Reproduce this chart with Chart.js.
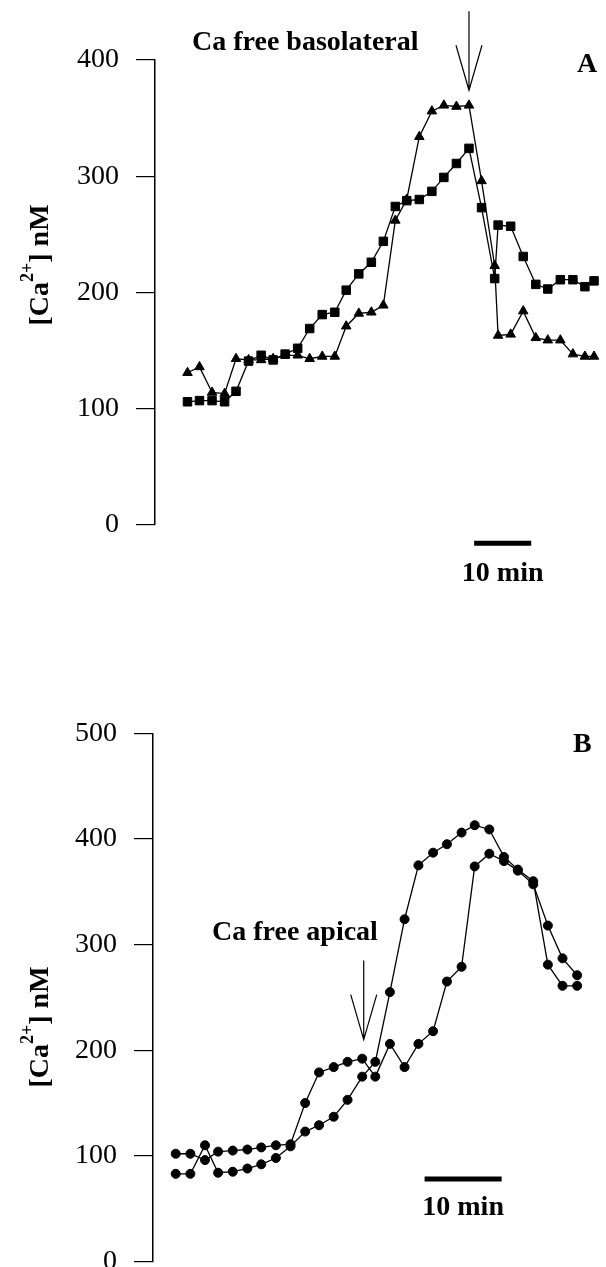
<!DOCTYPE html>
<html>
<head>
<meta charset="utf-8">
<script src="https://cdn.jsdelivr.net/npm/chart.js@4.4.0/dist/chart.umd.min.js"></script>
<style>
    body { margin: 0; background: #fff; overflow: hidden; }
    canvas { position: absolute; left: 0; }
    #chartA { top: 0; }
    #chartB { top: 600px; }
</style>
</head>
<body>
<canvas id="chartA" width="606" height="600"></canvas>
<canvas id="chartB" width="606" height="667"></canvas>
<script>
// Panel A - Ca free basolateral (time in min, [Ca2+] in nM)
const timeA = [0, 2.1, 4.3, 6.5, 8.5, 10.7, 12.9, 15.0, 17.1, 19.3, 21.4, 23.6, 25.8, 27.8, 30.0, 32.2, 34.3,
    36.4, 38.4, 40.6, 42.8, 44.9, 47.1, 49.3, 51.5, 53.8, 54.4, 56.6, 58.8, 61.0, 63.1, 65.3, 67.5, 69.6, 71.2];
const squaresA = [106, 107, 107, 106, 115, 141, 146, 142, 147, 152, 169, 181, 183, 202, 216, 226, 244,
    274, 279, 280, 287, 299, 311, 324, 273, 212, 258, 257, 231, 207, 203, 211, 211, 205, 210];
const trianglesA = [131, 136, 114, 113, 143, 142, 142, 143, 146, 146, 143, 145, 145, 171, 182, 183, 189,
    262, 280, 334, 356, 361, 360, 361, 296, 223, 163, 164, 184, 161, 159, 159, 147, 145, 145];
const ticksA = [0, 100, 200, 300, 400];
const scaleBarA = [50.2, 60.2];

// Panel B - Ca free apical
const timeB = [0, 1.9, 3.8, 5.5, 7.4, 9.3, 11.1, 13.0, 14.9, 16.8, 18.6, 20.5, 22.3, 24.2, 25.9,
    27.8, 29.7, 31.5, 33.4, 35.2, 37.1, 38.8, 40.7, 42.6, 44.4, 46.4, 48.3, 50.2, 52.1];
const circlesB1 = [102, 102, 96, 104, 105, 106, 108, 110, 111, 150, 179, 184, 189, 192, 175,
    206, 184, 206, 218, 265, 279, 374, 386, 379, 370, 357, 318, 287, 271];
const circlesB2 = [83, 83, 110, 84, 85, 88, 92, 98, 109, 123, 129, 137, 153, 175, 189,
    255, 324, 375, 387, 395, 406, 413, 409, 383, 371, 360, 281, 261, 261];
const ticksB = [0, 100, 200, 300, 400, 500];
const scaleBarB = [32.3, 42.3];

const SERIF = '"Liberation Serif", "Times New Roman", serif';

function toPoints(xs, ys) {
    return xs.map((x, i) => ({ x: x, y: ys[i] }));
}

function series(data, style, radius) {
    return {
        data: data,
        borderColor: "#000",
        backgroundColor: "#000",
        borderWidth: 1.3,
        pointStyle: style,
        pointRadius: radius,
        pointBorderWidth: 1,
        tension: 0,
        clip: false,
    };
}

function scaleBar(xs, y) {
    return {
        data: xs.map((x) => ({ x: x, y: y })),
        borderColor: "#000",
        borderWidth: 5,
        borderCapStyle: "butt",
        pointRadius: 0,
        clip: false,
    };
}

function yAxis(max, ticks, width) {
    return {
        type: "linear",
        min: 0,
        max: max,
        afterBuildTicks: (s) => { s.ticks = ticks.map((v) => ({ value: v })); },
        afterFit: (s) => { s.width = width; s.paddingTop = 0; s.paddingBottom = 0; },
        grid: { drawOnChartArea: false, drawTicks: true, tickLength: 19, color: "#000", lineWidth: 1.2 },
        border: { display: true, color: "#000", width: 1.5 },
        ticks: { color: "#000", padding: 17, font: { family: SERIF, size: 28 } },
    };
}

function drawYLabel(ctx, cx, cy) {
    const big = "bold 28px " + SERIF;
    const small = "bold 18px " + SERIF;
    ctx.save();
    ctx.translate(cx, cy);
    ctx.rotate(-Math.PI / 2);
    ctx.fillStyle = "#000";
    ctx.textAlign = "left";
    ctx.textBaseline = "alphabetic";
    ctx.font = big;
    const w1 = ctx.measureText("[Ca").width;
    const w3 = ctx.measureText("] nM").width;
    ctx.font = small;
    const w2 = ctx.measureText("2+").width;
    let x = -(w1 + w2 + w3) / 2;
    ctx.font = big;
    ctx.fillText("[Ca", x, 10);
    x += w1;
    ctx.font = small;
    ctx.fillText("2+", x, -5);
    x += w2;
    ctx.font = big;
    ctx.fillText("] nM", x, 10);
    ctx.restore();
}

function drawText(ctx, str, x, y, align) {
    ctx.save();
    ctx.font = "bold 28px " + SERIF;
    ctx.fillStyle = "#000";
    ctx.textAlign = align || "left";
    ctx.textBaseline = "alphabetic";
    ctx.fillText(str, x, y);
    ctx.restore();
}

// open arrow pointing down onto the trace
function drawArrow(chart, xVal, yTopVal, yTipVal) {
    const ctx = chart.ctx;
    const x = chart.scales.x.getPixelForValue(xVal);
    const y0 = chart.scales.y.getPixelForValue(yTopVal);
    const y1 = chart.scales.y.getPixelForValue(yTipVal);
    ctx.save();
    ctx.strokeStyle = "#000";
    ctx.lineWidth = 1.2;
    ctx.beginPath();
    ctx.moveTo(x, y0);
    ctx.lineTo(x, y1);
    ctx.moveTo(x - 13, y1 - 45);
    ctx.lineTo(x, y1);
    ctx.lineTo(x + 13, y1 - 45);
    ctx.stroke();
    ctx.restore();
}

function makeChart(id, datasets, xMin, xMax, yMax, ticks, axisWidth, padding, notes) {
    return new Chart(document.getElementById(id), {
        type: "line",
        data: { datasets: datasets },
        options: {
            responsive: false,
            animation: false,
            layout: { padding: padding },
            plugins: { legend: { display: false }, tooltip: { enabled: false } },
            scales: {
                x: { type: "linear", display: false, min: xMin, max: xMax },
                y: yAxis(yMax, ticks, axisWidth),
            },
        },
        plugins: [{ id: "notes", afterDatasetsDraw: notes }],
    });
}

makeChart("chartA",
    [series(toPoints(timeA, squaresA), "rect", 6),
     series(toPoints(timeA, trianglesA), "triangle", 5.5),
     scaleBar(scaleBarA, -15.7)],
    -5.69, 72.07, 400, ticksA, 155,
    { top: 60, bottom: 75, left: 0, right: 0 },
    function (chart) {
        const ctx = chart.ctx;
        drawYLabel(ctx, 38, 265);
        drawText(ctx, "Ca free basolateral", 192, 50);
        drawText(ctx, "A", 577, 72);
        drawText(ctx, "10 min", chart.scales.x.getPixelForValue((scaleBarA[0] + scaleBarA[1]) / 2), 581, "center");
        drawArrow(chart, 49.3, 442, 374);
    });

makeChart("chartB",
    [series(toPoints(timeB, circlesB1), "circle", 4.5),
     series(toPoints(timeB, circlesB2), "circle", 4.5),
     scaleBar(scaleBarB, 78)],
    -2.95, 55.13, 500, ticksB, 153,
    { top: 133.3, bottom: 5.3, left: 0, right: 0 },
    function (chart) {
        const ctx = chart.ctx;
        drawYLabel(ctx, 38, 427);
        drawText(ctx, "Ca free apical", 212, 340);
        drawText(ctx, "B", 573, 152);
        drawText(ctx, "10 min", chart.scales.x.getPixelForValue((scaleBarB[0] + scaleBarB[1]) / 2), 615, "center");
        drawArrow(chart, 24.4, 285, 210);
    });
</script>
</body>
</html>
